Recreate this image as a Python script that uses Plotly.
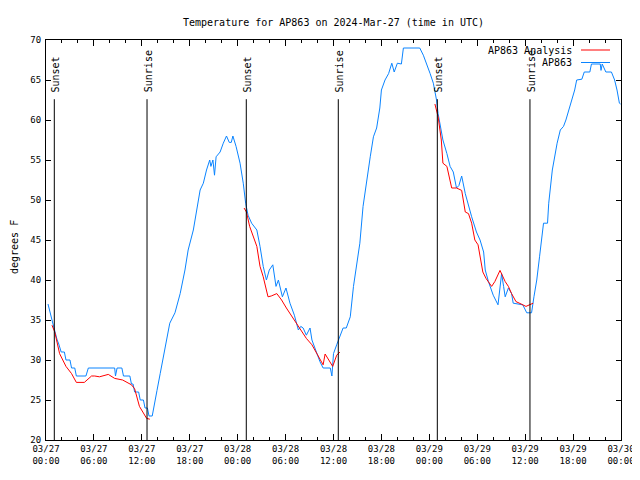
import plotly.graph_objects as go
from datetime import datetime, timedelta

# hours after 2024-03-27 00:00 UTC
obs_hours = [0.25, 0.6, 1.0, 1.4, 1.6, 1.9, 2.3, 2.5, 3.0, 3.2, 3.6, 3.8, 5.0, 5.3, 8.6, 8.7, 8.9, 9.5,
             9.7, 10.5, 10.7, 10.9, 11.1, 11.6, 11.8, 12.2, 12.4, 12.7, 12.9, 13.3, 13.5, 13.9, 14.3,
             14.9, 15.5, 16.15, 16.8, 17.4, 17.8, 18.45, 18.9, 19.3, 19.7, 20.1, 20.5, 20.65, 20.9,
             21.1, 21.3, 21.8, 22.2, 22.6, 22.95, 23.2, 23.4, 23.8, 24.3, 24.7, 25.0, 25.3, 25.75,
             26.4, 26.8, 27.2, 27.6, 27.96, 28.4, 28.8, 29.1, 29.6, 30.05, 30.55, 31.1, 31.6, 31.9,
             32.2, 32.6, 33.06, 33.3, 33.9, 34.3, 34.7, 35.6, 35.8, 36.0, 36.4, 36.8, 37.2, 37.6,
             38.1, 38.5, 38.9, 39.3, 39.7, 40.2, 40.6, 41.0, 41.4, 41.8, 42.0, 42.45, 42.9, 43.3,
             43.6, 44.0, 44.5, 44.75, 46.8, 47.25, 47.7, 48.1, 48.5, 48.9, 49.1, 49.4, 49.7, 50.2,
             50.6, 51.0, 51.4, 51.7, 52.05, 52.5, 52.9, 53.3, 53.9, 54.35, 54.8, 55.0, 55.4, 56.0,
             56.6, 56.85, 57.05, 57.3, 57.5, 57.9, 58.3, 58.5, 59.7, 60.2, 60.8, 61.1, 61.45, 61.8,
             62.1, 62.3, 62.8, 62.95, 63.4, 63.6, 64.0, 64.4, 64.8, 65.1, 65.4, 65.8, 66.2, 66.45,
             67.1, 67.4, 68.1, 68.3, 69.4, 69.5, 69.65, 70.1, 70.8, 71.2, 71.5, 71.8, 71.95]
obs_temp = [37, 35.5, 34, 32.5, 32, 31, 31, 30, 30, 29, 29, 28, 28, 29, 29, 28, 29, 29,
            28, 28, 27, 27, 26, 26, 25, 25, 24, 24, 23, 23, 24.2, 26.2, 28.3,
            31.7, 34.6, 35.9, 38.3, 41.25, 43.75, 46.25, 48.75, 51.25, 52.1, 53.75, 55, 54.2, 55,
            53.1, 55.4, 56, 57.1, 58, 57.2, 57.2, 58, 56.7, 54.6, 52.1, 49.6, 48.1, 47.1,
            46.25, 44.2, 41.7, 40, 41.25, 41.9, 39.2, 40, 37.9, 39, 37.1, 35.6, 33.75, 34.2,
            34, 33.1, 34, 32.5, 30.8, 29.8, 29, 29, 28, 30.8, 31.9, 32.9, 34, 34,
            35.4, 39.2, 42.1, 44.6, 49.2, 52.9, 55.4, 57.9, 59, 61.5, 63.75, 65, 65.8, 67.1,
            66, 67.1, 67, 69, 69, 68.1, 67, 65.8, 64.6, 62.5, 60.8, 59.2, 57.5, 55.8,
            54.2, 53.5, 51.5, 51.8, 53, 50.8, 49.2, 47.9, 46, 45, 43.5, 41.25, 39.8, 38.1,
            36.9, 38.75, 40.8, 39.2, 37.9, 39, 38.3, 37.1, 36.9, 35.9, 35.9, 37.9, 40, 42.9,
            45.4, 47.1, 47.1, 49.6, 53.75, 55, 57.1, 58.75, 59.2, 60, 61, 62.3, 63.75, 65,
            65.1, 66, 66, 67, 67, 66.2, 67, 66, 66, 65, 63.75, 62.1, 62]

ana_hours = [0.75, 1.1, 1.7, 2.5, 3.2, 3.8, 4.8, 5.7, 6.1, 6.7, 7.8, 8.6, 9.6, 10.7, 11.1, 11.7, 12.6, 13.0,
             None,
             24.8, 25.1, 25.5, 25.96, 26.4, 26.8, 27.2, 27.8, 28.2, 28.9, 29.5, 30.1, 30.8, 31.4, 32.0,
             32.6, 33.3, 33.9, 34.5, 34.7, 34.95, 35.9, 36.4, 36.8,
             None,
             48.7, 49.1, 49.5, 49.7, 50.2, 50.6, 50.8, 51.4, 52.05, 52.5, 52.9, 53.3, 53.7, 54.1,
             54.4, 54.7, 55.1, 55.8, 56.2, 56.85, 57.5, 57.9, 58.3, 58.85, 59.5, 60.1, 61.0]
ana_temp = [34.35, 33.5, 30.8, 29.2, 28.3, 27.2, 27.2, 28.0, 28.0, 27.9, 28.2, 27.7, 27.5, 26.9, 26.4, 24.2, 22.7, 22.6,
            None,
            49, 48.5, 46.7, 45.4, 44.2, 41.7, 40.4, 37.9, 38, 38.3, 37.5, 36.5, 35.4, 34.6, 33.5,
            32.7, 31.9, 30.8, 29.6, 29.4, 30.75, 29.2, 30.6, 31,
            None,
            62, 60.4, 57.5, 54.6, 54.2, 52.1, 51.5, 51.5, 51.2, 48.5, 48.3, 47.1, 45, 44.4,
            42.5, 41, 40.2, 39.2, 39.8, 41.2, 39.8, 39.2, 38.3, 37.3, 37, 36.7, 37.1]

sun_hours = [1.04, 12.65, 25.08, 36.6, 49.0, 60.6]
sun_labels = ["Sunset", "Sunrise", "Sunset", "Sunrise", "Sunset", "Sunrise"]
sun_line_top = 62.6

base = datetime(2024, 3, 27)


def to_time(h):
    return None if h is None else base + timedelta(hours=h)


FONT = "DejaVu Sans Mono"
BLUE = "#0a84ff"
RED = "#ff0000"

# The page body has an 8px margin; figure is sized to compensate.
W, H = 632, 472
ML, MR, MT, MB = 38, 19, 32, 40
PW, PH = W - ML - MR, H - MT - MB

fig = go.Figure()
fig.add_trace(go.Scatter(x=[to_time(h) for h in obs_hours], y=obs_temp, mode="lines",
                         line=dict(color=BLUE, width=1), name="AP863", showlegend=False))
fig.add_trace(go.Scatter(x=[to_time(h) for h in ana_hours], y=ana_temp, mode="lines",
                         line=dict(color=RED, width=1), name="AP863 Analysis",
                         connectgaps=False, showlegend=False))

for h, lab in zip(sun_hours, sun_labels):
    t = to_time(h)
    fig.add_shape(type="line", x0=t, x1=t, y0=20, y1=sun_line_top, xref="x", yref="y",
                  line=dict(color="black", width=1))
    fig.add_annotation(x=t, y=sun_line_top, xref="x", yref="y", text=lab, textangle=-90,
                       showarrow=False, xanchor="center", yanchor="bottom", yshift=5, xshift=1,
                       font=dict(family=FONT, size=10, color="black"))

# legend (gnuplot style: text then sample line on the right); positions in plot pixels
legend_rows = [("AP863 Analysis", RED, 10), ("AP863", BLUE, 22.5)]
for text, col, ypx in legend_rows:
    yp = 1 - ypx / PH
    fig.add_annotation(x=(528) / PW, y=yp, xref="paper", yref="paper", text=text,
                       showarrow=False, xanchor="right", yanchor="middle",
                       font=dict(family=FONT, size=10, color="black"))
    fig.add_shape(type="line", x0=535 / PW, x1=564 / PW, y0=yp, y1=yp,
                  xref="paper", yref="paper", line=dict(color=col, width=1))

# y-axis title
fig.add_annotation(x=-31 / PW, y=1 - 207 / PH, xref="paper", yref="paper", text="degrees F",
                   textangle=-90, showarrow=False, xanchor="center", yanchor="middle",
                   font=dict(family=FONT, size=10, color="black"))

fig.update_layout(
    width=W, height=H,
    margin=dict(l=ML, r=MR, t=MT, b=MB, autoexpand=False),
    paper_bgcolor="white", plot_bgcolor="white",
    font=dict(family=FONT, size=9, color="black"),
    title=dict(text="Temperature for AP863 on 2024-Mar-27 (time in UTC)", x=0.5, xref="paper",
               xanchor="center", y=1 - 14 / H, yanchor="middle", yref="container",
               font=dict(family=FONT, size=10, color="black")),
)
fig.update_xaxes(type="date", range=[base, base + timedelta(hours=72)],
                 dtick=6 * 3600 * 1000, tick0=base, tickformat="%m/%d<br>%H:%M",
                 ticks="inside", ticklen=6, tickcolor="black", showgrid=False, zeroline=False,
                 showline=True, linecolor="black", linewidth=1, mirror="ticks", automargin=False,
                 minor=dict(dtick=2 * 3600 * 1000, ticks="inside", ticklen=3, tickcolor="black"),
                 tickfont=dict(family=FONT, size=9))
fig.update_yaxes(range=[20, 70], dtick=5, ticks="inside", ticklen=5, tickcolor="black",
                 showgrid=False, zeroline=False, showline=True, linecolor="black", linewidth=1,
                 mirror="ticks", automargin=False, ticklabelstandoff=2,
                 tickfont=dict(family=FONT, size=9))

fig.write_html("out.html")
